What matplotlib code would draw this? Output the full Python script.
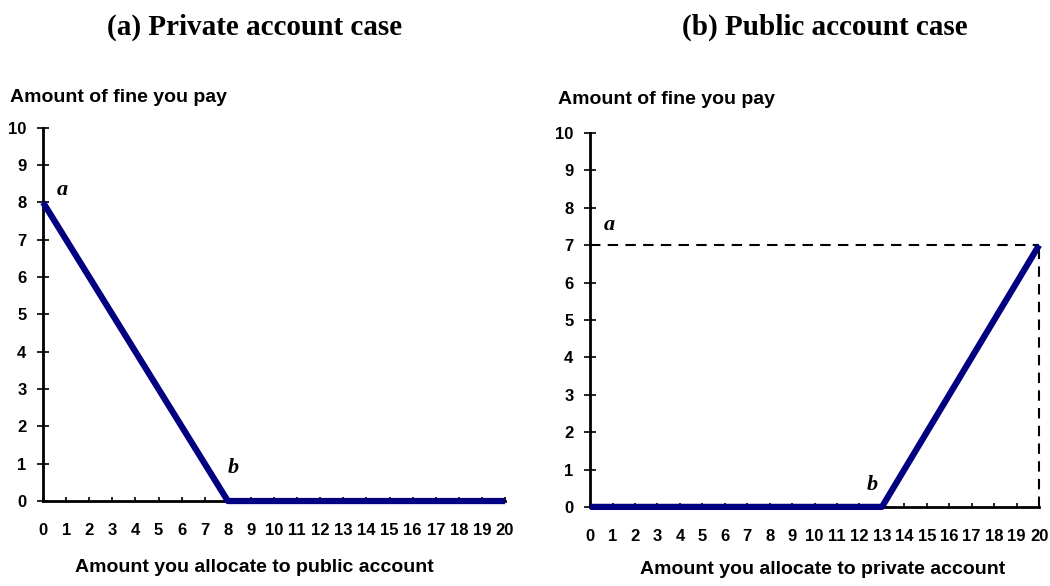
import matplotlib
matplotlib.use("Agg")
import matplotlib.pyplot as plt

# contribution levels 0..20
x_vals = list(range(21))

# (a) private account case: fine vs amount allocated to public account
fine_private = [8, 7, 6, 5, 4, 3, 2, 1, 0, 0, 0, 0, 0, 0, 0, 0, 0, 0, 0, 0, 0]
# (b) public account case: fine vs amount allocated to private account
fine_public = [0, 0, 0, 0, 0, 0, 0, 0, 0, 0, 0, 0, 0, 0, 1, 2, 3, 4, 5, 6, 7]

ref_level = 7   # dashed guide in panel (b)
ref_x = 20

titles = ["(a) Private account case", "(b) Public account case"]
xlabels = ["Amount you allocate to public account", "Amount you allocate to private account"]
ylabel = "Amount of fine you pay"

NAVY = "#000080"
SANS = "Liberation Sans"
SERIF = "Liberation Serif"

fig = plt.figure(figsize=(10.5, 5.86), dpi=100)
ax1 = fig.add_axes([0.041, 0.145, 0.44, 0.637])
ax2 = fig.add_axes([0.562, 0.135, 0.4276, 0.638])


def style(ax):
    ax.set_xlim(0, 20)
    ax.set_ylim(0, 10)
    for s in ["top", "right"]:
        ax.spines[s].set_visible(False)
    for s in ["left", "bottom"]:
        ax.spines[s].set_linewidth(2)
    ax.set_xticks(x_vals)
    ax.set_yticks(range(11))
    ax.tick_params(axis="y", direction="inout", length=8, width=1.2, pad=8)
    ax.tick_params(axis="x", direction="in", length=3, width=1.2, pad=16)
    for lab in ax.get_xticklabels() + ax.get_yticklabels():
        lab.set_fontfamily(SANS)
        lab.set_fontweight("bold")
        lab.set_fontsize(12)


style(ax1)
ax1.plot(x_vals, fine_private, color=NAVY, lw=4.5, solid_capstyle="butt", clip_on=False, zorder=3)
ax1.text(0.6, 8.2, "a", fontfamily=SERIF, fontstyle="italic", fontweight="bold", fontsize=16)
ax1.text(8.0, 0.75, "b", fontfamily=SERIF, fontstyle="italic", fontweight="bold", fontsize=16)

style(ax2)
ax2.plot([0, ref_x], [ref_level, ref_level], color="black", lw=1.5, ls=(0, (5, 3.5)), clip_on=False)
ax2.plot([ref_x, ref_x], [0, ref_level], color="black", lw=1.5, ls=(0, (5, 3.5)), clip_on=False)
ax2.plot(x_vals, fine_public, color=NAVY, lw=4.5, solid_capstyle="butt", clip_on=False, zorder=3)
ax2.text(0.6, 7.4, "a", fontfamily=SERIF, fontstyle="italic", fontweight="bold", fontsize=16)
ax2.text(12.3, 0.45, "b", fontfamily=SERIF, fontstyle="italic", fontweight="bold", fontsize=16)

# titles, axis captions placed as figure text
fig.text(255 / 1050, 1 - 27 / 586, titles[0], ha="center", va="center",
         fontfamily=SERIF, fontweight="bold", fontsize=21)
fig.text(825 / 1050, 1 - 27 / 586, titles[1], ha="center", va="center",
         fontfamily=SERIF, fontweight="bold", fontsize=21)
fig.text(10 / 1050, 1 - 98 / 586, ylabel, ha="left", va="center",
         fontfamily=SANS, fontweight="bold", fontsize=14)
fig.text(558 / 1050, 1 - 100 / 586, ylabel, ha="left", va="center",
         fontfamily=SANS, fontweight="bold", fontsize=14)
fig.text(254 / 1050, 1 - 567 / 586, xlabels[0], ha="center", va="center",
         fontfamily=SANS, fontweight="bold", fontsize=14)
fig.text(823 / 1050, 1 - 570 / 586, xlabels[1], ha="center", va="center",
         fontfamily=SANS, fontweight="bold", fontsize=14)

fig.savefig("out.png", dpi=100)
